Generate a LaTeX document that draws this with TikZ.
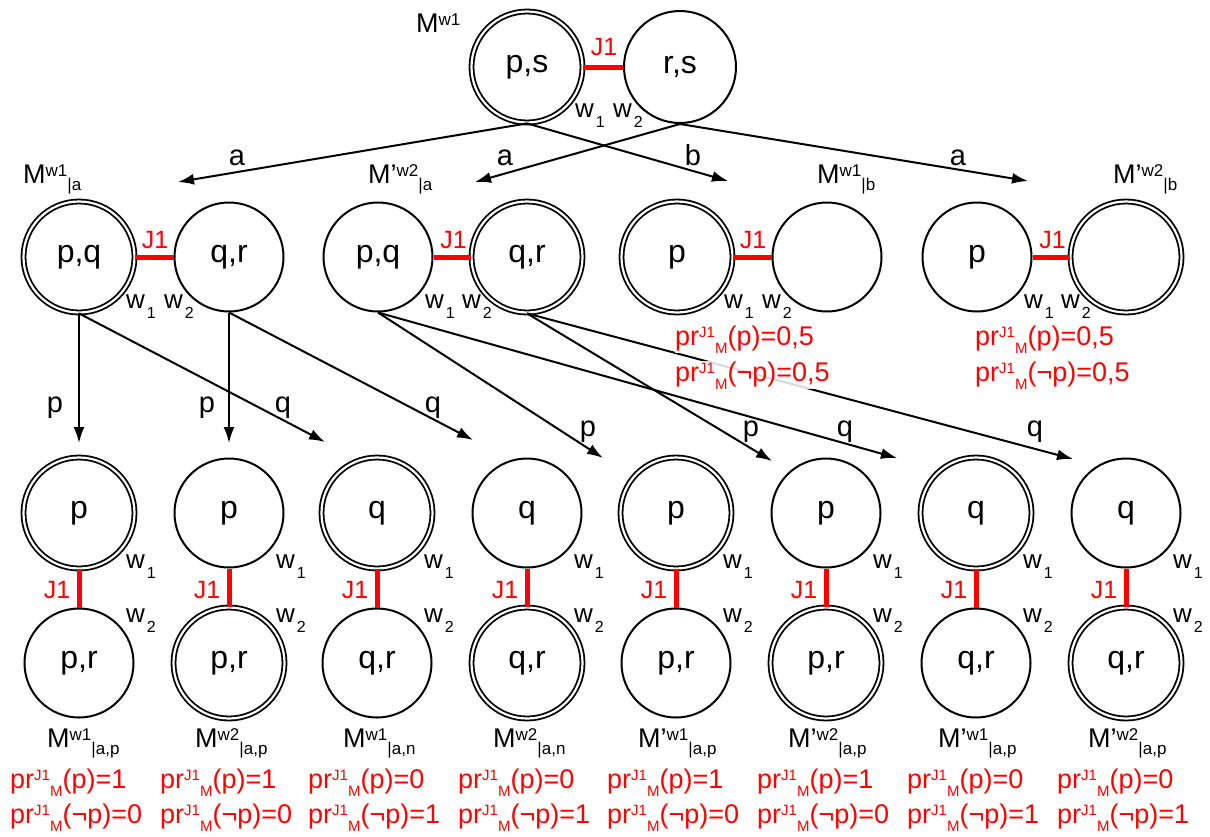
\documentclass[tikz,border=0pt]{standalone}
\usepackage{fontspec}
\setmainfont{Liberation Sans}
\usetikzlibrary{arrows.meta}
\newcommand{\myfs}[1]{\fontsize{#1}{#1}\selectfont}
\newcommand{\Mlab}[2]{M\raisebox{7pt}{\myfs{17}#1}\raisebox{-7pt}{\myfs{17}#2}}
\newcommand{\Mplab}[2]{M’\raisebox{7pt}{\myfs{17}#1}\raisebox{-7pt}{\myfs{17}#2}}
\newcommand{\prl}{pr\raisebox{8pt}{\myfs{15}J1}\raisebox{-8pt}{\myfs{15}M}}
\newcommand{\wl}[1]{w\kern2pt\raisebox{-10pt}{\myfs{16}#1}}
\tikzset{
  world/.style={circle, draw, line width=2pt, minimum size=109pt, inner sep=0pt, font=\myfs{32}},
  actual/.style={circle, draw, double, double distance=2.2pt, line width=1.8pt, minimum size=111pt, inner sep=0pt, font=\myfs{32}},
  jline/.style={red, line width=5pt},
  arr/.style={line width=2pt, -{Latex[length=16pt,width=11pt]}},
  elab/.style={font=\myfs{29}, anchor=base, inner sep=0pt},
  wlab/.style={font=\myfs{26}, anchor=base west, inner sep=0pt},
  jlab/.style={font=\myfs{25}, text=red, inner sep=0pt},
  mlab/.style={font=\myfs{27}, anchor=base west, inner sep=0pt},
  plab/.style={font=\myfs{27}, text=red, anchor=base west, inner sep=0pt},
}
\begin{document}
\begin{tikzpicture}[x=1pt,y=-1pt]
\useasboundingbox (0,0) rectangle (1210,836);
% ---------- top ----------
\node[actual] (A) at (527,67) {p,s};
\node[world, minimum size=112pt] (B) at (680,67) {r,s};
\draw[jline] (A) -- (B);
\node[jlab] (jA) at (604,47) {J1};
\node[wlab] (wA1) at (575,117) {\wl{1}};
\node[wlab] (wA2) at (613,117) {\wl{2}};
\node[mlab] (mA) at (416,32) {M\raisebox{7pt}{\myfs{17}w1}};
% ---------- row 2 ----------
\node[actual] (L1) at (79,257) {p,q};
\node[world]  (R1) at (229,257) {q,r};
\node[world]  (L2) at (378,257) {p,q};
\node[actual] (R2) at (527,257) {q,r};
\node[actual] (L3) at (677,257) {p};
\node[world]  (R3) at (827,257) {};
\node[world]  (L4) at (977,257) {p};
\node[actual] (R4) at (1126,257) {};
\foreach \i/\l/\r in {1/79/229,2/378/527,3/677/827,4/977/1126}{
  \draw[jline] (L\i) -- (R\i);
  \node[jlab] (jr\i) at ({(\l+\r)/2+1},240) {J1};
  \node[wlab] (wr\i a) at (\l+47,308) {\wl{1}};
  \node[wlab] (wr\i b) at (\r-65,308) {\wl{2}};
}
\node[mlab] (m1) at (23,183) {\Mlab{w1}{|a}};
\node[mlab] (m2) at (368,183) {\Mplab{w2}{|a}};
\node[mlab] (m3) at (817,183) {\Mlab{w1}{|b}};
\node[mlab] (m4) at (1113,183) {\Mplab{w2}{|b}};
% arrows top -> row 2
\coordinate (t1) at (178,182);
\coordinate (t2) at (728,181);
\coordinate (t3) at (475,182);
\coordinate (t4) at (1028,181);
\draw[arr] (A.south) -- (t1);
\draw[arr] (A.south) -- (t2);
\draw[arr] (B.south) -- (t3);
\draw[arr] (B.south) -- (t4);
\node[elab] (ea1) at (237,165) {a};
\node[elab] (eb1) at (693,165) {b};
\node[elab] (ea2) at (505,165) {a};
\node[elab] (ea3) at (958,165) {a};
% ---------- row 3 ----------
\node[actual] (c1t) at (79,513) {p};
\node[world]  (c1b) at (79,663) {p,r};
\node[world]  (c2t) at (229,513) {p};
\node[actual] (c2b) at (229,663) {p,r};
\node[actual] (c3t) at (377,513) {q};
\node[world]  (c3b) at (377,663) {q,r};
\node[world]  (c4t) at (527,513) {q};
\node[actual] (c4b) at (527,663) {q,r};
\node[actual] (c5t) at (676,513) {p};
\node[world]  (c5b) at (676,663) {p,r};
\node[world]  (c6t) at (826,513) {p};
\node[actual] (c6b) at (826,663) {p,r};
\node[actual] (c7t) at (976,513) {q};
\node[world]  (c7b) at (976,663) {q,r};
\node[world]  (c8t) at (1126,513) {q};
\node[actual] (c8b) at (1126,663) {q,r};
\foreach \i/\x/\a/\b in {1/79/1/0,2/229/1/0,3/377/0/1,4/527/0/1,5/676/1/0,6/826/1/0,7/976/0/1,8/1126/0/1}{
  \draw[jline] (c\i t) -- (c\i b);
  \node[jlab] (jc\i) at (\x-22,590) {J1};
  \node[wlab] (wc\i a) at (\x+47,568) {\wl{1}};
  \node[wlab] (wc\i b) at (\x+47,622) {\wl{2}};
  \node[plab] (pc\i a) at (\x-69,788) {\prl(p)=\a};
  \node[plab] (pc\i b) at (\x-69,823) {\prl(¬p)=\b};
}
\node[mlab] (mc1) at (47,747) {\Mlab{w1}{|a,p}};
\node[mlab] (mc2) at (195,747) {\Mlab{w2}{|a,p}};
\node[mlab] (mc3) at (343,747) {\Mlab{w1}{|a,n}};
\node[mlab] (mc4) at (493,747) {\Mlab{w2}{|a,n}};
\node[mlab] (mc5) at (638,747) {\Mplab{w1}{|a,p}};
\node[mlab] (mc6) at (788,747) {\Mplab{w2}{|a,p}};
\node[mlab] (mc7) at (938,747) {\Mplab{w1}{|a,p}};
\node[mlab] (mc8) at (1088,747) {\Mplab{w2}{|a,p}};
% arrows row 2 -> row 3
\coordinate (e1) at (79,443);
\coordinate (e2) at (325,442);
\coordinate (e3) at (229,443);
\coordinate (e4) at (473,440);
\coordinate (e5) at (603,458);
\coordinate (e6) at (897,458);
\coordinate (e7) at (772,461);
\coordinate (e8) at (1073,459);
\draw[arr] (L1.south) -- (e1);
\draw[arr] (L1.south) -- (e2);
\draw[arr] (R1.south) -- (e3);
\draw[arr] (R1.south) -- (e4);
\draw[arr] (L2.south) -- (e5);
\draw[arr] (L2.south) -- (e6);
\draw[arr] (R2.south) -- (e7);
\draw[arr] (R2.south) -- (e8);
\node[elab] (ep1) at (55,412) {p};
\node[elab] (eq1) at (283,412) {q};
\node[elab] (ep2) at (207,412) {p};
\node[elab] (eq2) at (433,412) {q};
\node[elab] (ep3) at (588,436) {p};
\node[elab] (eq3) at (845,436) {q};
\node[elab] (ep4) at (751,436) {p};
\node[elab] (eq4) at (1035,436) {q};
% probabilities row 2
\foreach \i/\x in {3/675,4/975}{
  \node[plab, fill=white, fill opacity=0.85, text opacity=1] (pr\i a) at (\x,345) {\prl(p)=0,5};
  \node[plab, fill=white, fill opacity=0.85, text opacity=1] (pr\i b) at (\x,381) {\prl(¬p)=0,5};
}
\end{tikzpicture}
\end{document}
